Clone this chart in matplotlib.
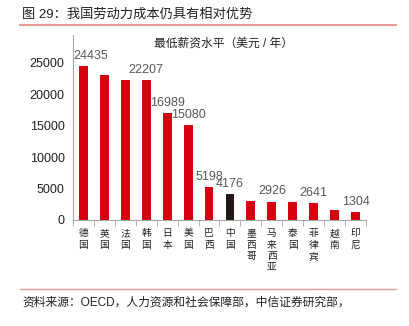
import matplotlib.pyplot as plt
import numpy as np

countries = ['德国', '英国', '法国', '韩国', '日本', '美国', '巴西', '中国',
             '墨西哥', '马来西亚', '泰国', '菲律宾', '越南', '印尼']
wages = [24435, 23000, 22250, 22207, 16989, 15080, 5198, 4176,
         3050, 2926, 2800, 2641, 1550, 1304]
labelled = ['德国', '韩国', '日本', '美国', '巴西', '中国', '马来西亚', '菲律宾', '印尼']
yticks = [0, 5000, 10000, 15000, 20000, 25000]

plt.rcParams['font.family'] = ['Liberation Sans', 'Noto Sans CJK SC']

fig = plt.figure(figsize=(4.1, 3.26), dpi=100)
ax = fig.add_axes([73/410, 1-220/326, 293/410, 185/326])

x = np.arange(len(countries))
colors = ['#231815' if c == '中国' else '#D7000F' for c in countries]
ax.bar(x, wages, width=0.42, color=colors, zorder=2)

for i, (c, v) in enumerate(zip(countries, wages)):
    if c in labelled:
        dx = 5 if i == 0 else 0
        ax.annotate(str(v), (i, v), xytext=(dx, 3), textcoords='offset points',
                    ha='center', va='bottom', fontsize=9, color='#595959')

ax.set_xlim(-0.5, len(countries) - 0.5)
ax.set_ylim(0, 29400)
ax.set_yticks(yticks)
ax.set_yticklabels([str(t) for t in yticks], fontsize=9, color='#222222')
ax.tick_params(axis='y', length=0, pad=6)

ax.set_xticks(x)
ax.set_xticklabels(['\n'.join(c) for c in countries], fontsize=7,
                   linespacing=1.15, va='top', color='#222222')
ax.tick_params(axis='x', which='major', length=0, pad=6)
ax.set_xticks(np.arange(-0.5, len(countries)), minor=True)
ax.tick_params(axis='x', which='minor', length=4, color='#A6A6A6', direction='out')

for s in ['top', 'right']:
    ax.spines[s].set_visible(False)
for s in ['left', 'bottom']:
    ax.spines[s].set_color('#A6A6A6')
    ax.spines[s].set_linewidth(0.8)

fig.text(0.545, 1-44/326, '最低薪资水平（美元 / 年）', ha='center', va='center',
         fontsize=8.5, color='#222222')

fig.text(22/410, 1-15/326, '图 29：我国劳动力成本仍具有相对优势', ha='left', va='center',
         fontsize=9.5, color='#222222')
fig.add_artist(plt.Line2D([20/410, 396/410], [1-25/326, 1-25/326],
                          color='#E69A9A', linewidth=1.5))
fig.add_artist(plt.Line2D([20/410, 396/410], [1-289/326, 1-289/326],
                          color='#E69A9A', linewidth=1.0))
fig.text(22/410, 1-303/326, '资料来源：OECD，人力资源和社会保障部，中信证券研究部，',
         ha='left', va='center', fontsize=8.5, color='#222222')

fig.savefig('out.png', dpi=100)
